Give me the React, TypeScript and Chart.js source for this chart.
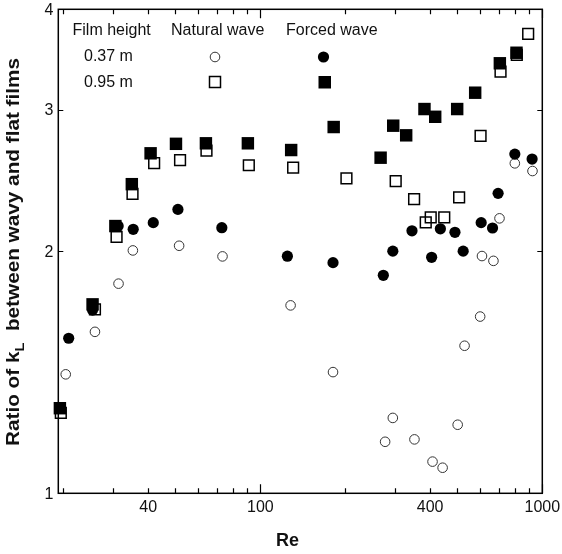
import React, { useEffect, useRef } from "react";
import { Chart, registerables } from "chart.js";

Chart.register(...registerables);

// ---- Data (Re, ratio) ----
const natural037X = [20.4, 25.9, 31.4, 35.3, 51.5, 73.4, 128, 181, 277, 295, 352, 408, 443, 501, 530, 602, 611, 671, 705, 799, 923];
const natural037Y = [1.406, 1.588, 1.823, 2.005, 2.032, 1.971, 1.713, 1.415, 1.159, 1.241, 1.167, 1.095, 1.076, 1.217, 1.526, 1.659, 1.973, 1.946, 2.198, 2.573, 2.517];

const forced037X = [20.9, 25.4, 31.3, 35.4, 41.7, 51.0, 73.0, 124.7, 181, 273, 295, 345, 405, 435, 490, 524, 607, 666, 697, 799, 920];
const forced037Y = [1.559, 1.69, 2.15, 2.13, 2.171, 2.255, 2.14, 1.972, 1.936, 1.867, 2.001, 2.121, 1.966, 2.133, 2.112, 2.001, 2.171, 2.138, 2.361, 2.642, 2.605];

const natural095X = [19.6, 25.9, 30.9, 35.2, 42.0, 51.9, 64.4, 91.0, 130.7, 202, 302, 351, 386, 402, 449, 507, 604, 711, 812, 891];
const natural095Y = [1.259, 1.694, 2.085, 2.357, 2.575, 2.597, 2.668, 2.559, 2.541, 2.465, 2.446, 2.323, 2.173, 2.204, 2.204, 2.334, 2.783, 3.345, 3.51, 3.727];

const forced095X = [19.45, 25.4, 30.6, 35.0, 40.8, 50.2, 64.1, 90.3, 128.6, 182, 267, 296, 329, 382, 417, 499, 578, 707, 810];
const forced095Y = [1.276, 1.718, 2.15, 2.424, 2.648, 2.721, 2.725, 2.725, 2.673, 2.855, 2.615, 2.866, 2.788, 3.006, 2.94, 3.006, 3.15, 3.427, 3.532];

const xTickLabels = [40, 100, 400, 1000];
const xMinorTicks = [20, 30, 40, 50, 60, 70, 80, 90, 200, 300, 400, 500, 600, 700, 800, 900];
const xMajorTicks = [100, 1000];
const yTickLabels = [1, 2, 3, 4];

const X_MIN = 19.2;
const X_MAX = 1000;
const Y_MIN = 1;
const Y_MAX = 4;

const FONT = '"Liberation Sans", Arial, sans-serif';
const TEXT = "#111";

const pts = (xs: number[], ys: number[]) => xs.map((x, i) => ({ x, y: ys[i] }));

const framePlugin = {
  id: "frame",
  beforeDatasetsDraw(chart: any) {
    const { ctx, chartArea: a, scales } = chart;
    const xs = scales.x;
    const ys = scales.y;
    ctx.save();
    ctx.strokeStyle = "#000";
    ctx.lineWidth = 1.5;
    ctx.strokeRect(a.left, a.top, a.right - a.left, a.bottom - a.top);
    ctx.lineWidth = 1.2;
    ctx.beginPath();
    const xt = (v: number, len: number) => {
      const px = Math.round(xs.getPixelForValue(v)) + 0.5;
      ctx.moveTo(px, a.bottom);
      ctx.lineTo(px, a.bottom - len);
      ctx.moveTo(px, a.top);
      ctx.lineTo(px, a.top + len);
    };
    xMinorTicks.forEach((v) => xt(v, 5));
    xMajorTicks.forEach((v) => xt(v, 9));
    yTickLabels.forEach((v) => {
      const py = Math.round(ys.getPixelForValue(v)) + 0.5;
      ctx.moveTo(a.left, py);
      ctx.lineTo(a.left + 5, py);
      ctx.moveTo(a.right, py);
      ctx.lineTo(a.right - 5, py);
    });
    ctx.stroke();
    ctx.restore();
  },
  afterDraw(chart: any) {
    const { ctx, chartArea: a, scales } = chart;
    const xs = scales.x;
    const ys = scales.y;
    ctx.save();
    ctx.fillStyle = TEXT;
    ctx.font = `16px ${FONT}`;
    ctx.textAlign = "center";
    ctx.textBaseline = "middle";
    xTickLabels.forEach((v) => {
      ctx.fillText(String(v), xs.getPixelForValue(v), a.bottom + 14);
    });
    ctx.textAlign = "right";
    yTickLabels.forEach((v) => {
      ctx.fillText(String(v), a.left - 5, ys.getPixelForValue(v) + 1);
    });

    // x title
    ctx.font = `bold 18px ${FONT}`;
    ctx.textAlign = "center";
    ctx.fillText("Re", 287.5, 541);

    // y title with subscript
    ctx.save();
    ctx.translate(14, 252);
    ctx.rotate(-Math.PI / 2);
    ctx.textAlign = "left";
    ctx.textBaseline = "middle";
    const p1 = "Ratio of k";
    const p2 = "L";
    const p3 = "  between wavy and flat films";
    const big = `bold 18.5px ${FONT}`;
    const small = `bold 13px ${FONT}`;
    const target = 388;
    ctx.font = big;
    const w1 = ctx.measureText(p1).width;
    const w3 = ctx.measureText(p3).width;
    ctx.font = small;
    const w2 = ctx.measureText(p2).width;
    const base = w1 + w2 + w3;
    const sx = target / base;
    ctx.scale(sx, 1);
    let x = -base / 2;
    ctx.font = big;
    ctx.fillText(p1, x, 0);
    x += w1;
    ctx.font = small;
    ctx.fillText(p2, x, 6);
    x += w2;
    ctx.font = big;
    ctx.fillText(p3, x, 0);
    ctx.restore();

    // legend table
    ctx.font = `16px ${FONT}`;
    ctx.textAlign = "left";
    ctx.textBaseline = "middle";
    ctx.fillStyle = TEXT;
    ctx.fillText("Film height", 72.5, 31);
    ctx.fillText("Natural wave", 171, 31);
    ctx.fillText("Forced wave", 286, 31);
    ctx.fillText("0.37 m", 84, 57);
    ctx.fillText("0.95 m", 84, 83);

    // legend markers
    ctx.lineWidth = 1;
    ctx.strokeStyle = "#333";
    ctx.beginPath();
    ctx.arc(215, 57, 4.8, 0, Math.PI * 2);
    ctx.stroke();
    ctx.lineWidth = 1.5;
    ctx.strokeStyle = "#000";
    ctx.strokeRect(209.5, 76.5, 11, 11);
    ctx.fillStyle = "#000";
    ctx.beginPath();
    ctx.arc(323.5, 57, 5.6, 0, Math.PI * 2);
    ctx.fill();
    ctx.fillRect(318.5, 76, 12.5, 12.5);
    ctx.restore();
  },
};

export default function App() {
  const ref = useRef<HTMLCanvasElement | null>(null);
  useEffect(() => {
    if (!ref.current) return;
    const chart = new Chart(ref.current, {
      type: "scatter",
      data: {
        datasets: [
          {
            label: "Forced wave 0.37 m",
            data: pts(forced037X, forced037Y),
            pointStyle: "circle",
            pointRadius: 5.6,
            backgroundColor: "#000",
            borderColor: "#000",
            borderWidth: 0,
            clip: false,
            order: 1,
          },
          {
            label: "Forced wave 0.95 m",
            data: pts(forced095X, forced095Y),
            pointStyle: "rect",
            pointRadius: 8.8,
            backgroundColor: "#000",
            borderColor: "#000",
            borderWidth: 0,
            clip: false,
            order: 2,
          },
          {
            label: "Natural wave 0.37 m",
            data: pts(natural037X, natural037Y),
            pointStyle: "circle",
            pointRadius: 4.8,
            backgroundColor: "rgba(255,255,255,0)",
            borderColor: "#333",
            borderWidth: 1,
            clip: false,
            order: 3,
          },
          {
            label: "Natural wave 0.95 m",
            data: pts(natural095X, natural095Y),
            pointStyle: "rect",
            pointRadius: 7.6,
            backgroundColor: "rgba(255,255,255,0)",
            borderColor: "#000",
            borderWidth: 1.5,
            clip: false,
            order: 4,
          },
        ],
      },
      options: {
        responsive: false,
        devicePixelRatio: 1,
        animation: false,
        layout: { padding: { left: 58.3, top: 9.3, right: 19.7, bottom: 60.7 } },
        plugins: { legend: { display: false }, tooltip: { enabled: false } },
        scales: {
          x: { type: "logarithmic", min: X_MIN, max: X_MAX, display: false },
          y: { type: "logarithmic", min: Y_MIN, max: Y_MAX, display: false },
        },
      },
      plugins: [framePlugin],
    });
    return () => chart.destroy();
  }, []);
  return (
    <div style={{ position: "absolute", left: 0, top: 0, width: 562, height: 554, background: "#fff" }}>
      <canvas ref={ref} width={562} height={554} style={{ width: 562, height: 554 }} />
    </div>
  );
}
